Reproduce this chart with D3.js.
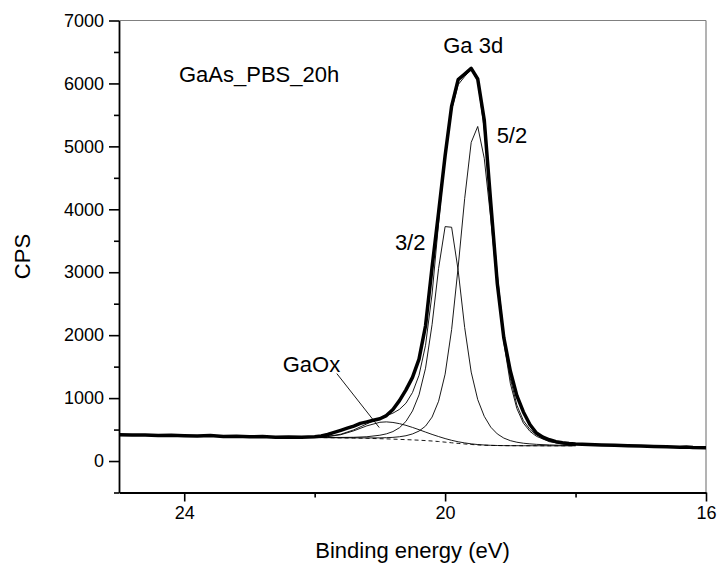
<!DOCTYPE html>
<html>
<head>
<meta charset="utf-8">
<script src="https://cdn.jsdelivr.net/npm/d3@7"></script>
<style>
  body { margin: 0; background: #fff; }
  svg text { font-family: "Liberation Sans", Arial, sans-serif; fill: #000; }
</style>
</head>
<body>
<svg id="chart" width="719" height="565"></svg>
<script>
// measured spectrum (binding energy eV, counts per second)
const rawData = [
  [25.0, 418], [24.8, 412], [24.6, 414], [24.4, 406], [24.2, 410], [24.0, 402],
  [23.8, 396], [23.6, 404], [23.4, 390], [23.2, 395], [23.0, 384], [22.8, 388],
  [22.6, 376], [22.4, 380], [22.2, 378], [22.0, 386], [21.9, 398], [21.8, 422],
  [21.7, 455], [21.6, 488], [21.5, 522], [21.4, 556], [21.3, 598], [21.2, 622],
  [21.1, 648], [21.0, 672], [20.9, 722], [20.8, 820], [20.7, 960], [20.6, 1130],
  [20.5, 1330], [20.4, 1620], [20.3, 2150], [20.2, 3080], [20.1, 3950], [20.0, 4850],
  [19.9, 5640], [19.8, 6060], [19.7, 6150], [19.6, 6240], [19.5, 6070], [19.4, 5420],
  [19.3, 4100], [19.2, 2820], [19.1, 1960], [19.0, 1430], [18.9, 1040], [18.8, 780],
  [18.7, 580], [18.6, 445], [18.5, 378], [18.4, 338], [18.3, 308], [18.2, 292],
  [18.1, 280], [18.0, 272], [17.8, 262], [17.6, 254], [17.4, 250], [17.2, 243],
  [17.0, 240], [16.8, 232], [16.6, 226], [16.4, 218], [16.3, 224], [16.2, 214],
  [16.0, 210]
];

// fit components, all on the same energy grid
const fitEnergy = [22.4, 22.2, 22.0, 21.8, 21.6, 21.4, 21.2, 21.0, 20.9, 20.8, 20.7, 20.6,
  20.5, 20.4, 20.3, 20.2, 20.1, 20.0, 19.9, 19.8, 19.7, 19.6, 19.5, 19.4, 19.3, 19.2,
  19.1, 19.0, 18.9, 18.8, 18.7, 18.6, 18.4, 18.2, 18.0];

const background = [376, 375, 373, 371, 368, 365, 361, 355, 352, 348, 344, 340,
  336, 331, 325, 318, 310, 300, 290, 280, 271, 263, 256, 251, 248, 246,
  245, 244, 244, 243, 243, 243, 242, 242, 242];

const gaOx = [376, 376, 377, 388, 418, 480, 559, 616, 622, 613, 594, 567,
  534, 498, 460, 423, 389, 357, 329, 306, 288, 273, 262, 255, 250, 247,
  245, 244, 244, 243, 243, 243, 242, 242, 242];

const ga3d32 = [376, 376, 375, 375, 375, 377, 386, 410, 432, 468, 529, 630,
  796, 1051, 1475, 2168, 3060, 3725, 3715, 3030, 2121, 1413, 976, 711, 538, 431,
  365, 324, 299, 283, 273, 265, 256, 250, 246];

const ga3d52 = [376, 375, 373, 371, 369, 368, 367, 368, 371, 376, 386, 402,
  431, 476, 555, 698, 950, 1380, 2090, 3080, 4171, 5063, 5316, 4811, 3848, 2786,
  1885, 1234, 834, 603, 473, 393, 307, 270, 254];

const fitSum = [376, 377, 379, 392, 426, 495, 590, 684, 721, 761, 821, 919,
  1089, 1363, 1840, 2653, 3779, 4862, 5580, 5980, 6110, 6223, 6042, 5275, 4140, 2972,
  2005, 1314, 889, 643, 503, 415, 321, 278, 258];

const xMajorTicks = [24, 20, 16];
const xMinorTicks = [22, 18];
const yMajorTicks = [0, 1000, 2000, 3000, 4000, 5000, 6000, 7000];
const yMinorTicks = [-500, 500, 1500, 2500, 3500, 4500, 5500, 6500];

const svg = d3.select("#chart"),
      margin = { top: 20.5, right: 13, bottom: 72.5, left: 119 },
      width  = 719 - margin.left - margin.right,
      height = 565 - margin.top - margin.bottom;

const x = d3.scaleLinear().domain([25, 16]).range([0, width]);
const y = d3.scaleLinear().domain([-500, 7000]).range([height, 0]);

const g = svg.append("g")
  .attr("transform", `translate(${margin.left},${margin.top})`);

// frame: top and right in grey
g.append("line").attr("x1", 0).attr("x2", width).attr("y1", 0).attr("y2", 0)
  .attr("stroke", "#808080").attr("stroke-width", 1.2);
g.append("line").attr("x1", width).attr("x2", width).attr("y1", 0).attr("y2", height)
  .attr("stroke", "#808080").attr("stroke-width", 1.2);

const line = d3.line().x(d => x(d[0])).y(d => y(d[1]));
const fitLine = vals => line(fitEnergy.map((e, i) => [e, vals[i]]));

// background (dashed)
g.append("path").attr("d", fitLine(background))
  .attr("fill", "none").attr("stroke", "#000").attr("stroke-width", 0.9)
  .attr("stroke-dasharray", "4,3");

// components
[gaOx, ga3d32, ga3d52, fitSum].forEach(vals => {
  g.append("path").attr("d", fitLine(vals))
    .attr("fill", "none").attr("stroke", "#000").attr("stroke-width", 0.9);
});

// measured data
g.append("path").attr("d", line(rawData))
  .attr("fill", "none").attr("stroke", "#000").attr("stroke-width", 3.5)
  .attr("stroke-linejoin", "round");

// axes
const axisStyle = sel => {
  sel.select(".domain").attr("stroke-width", 1.8);
  sel.selectAll(".tick line").attr("stroke-width", 1.6);
  sel.selectAll("text").style("font-size", "18px")
    .style("font-family", "'Liberation Sans', Arial, sans-serif");
};

g.append("g")
  .call(d3.axisLeft(y).tickValues(yMinorTicks).tickSize(5).tickFormat(""))
  .call(s => s.select(".domain").remove())
  .call(s => s.selectAll(".tick line").attr("stroke-width", 1.6));
g.append("g")
  .call(d3.axisLeft(y).tickValues(yMajorTicks).tickSize(10).tickSizeOuter(0)
    .tickPadding(5).tickFormat(d3.format("d")))
  .call(axisStyle);

g.append("g").attr("transform", `translate(0,${height})`)
  .call(d3.axisBottom(x).tickValues(xMinorTicks).tickSize(5).tickFormat(""))
  .call(s => s.select(".domain").remove())
  .call(s => s.selectAll(".tick line").attr("stroke-width", 1.6));
g.append("g").attr("transform", `translate(0,${height})`)
  .call(d3.axisBottom(x).tickValues(xMajorTicks).tickSize(9).tickSizeOuter(0)
    .tickPadding(5).tickFormat(d3.format("d")))
  .call(axisStyle);

// axis titles
svg.append("text")
  .attr("x", margin.left + width / 2).attr("y", 558)
  .attr("text-anchor", "middle").style("font-size", "22px")
  .text("Binding energy (eV)");
svg.append("text")
  .attr("transform", `translate(30,${margin.top + height / 2}) rotate(-90)`)
  .attr("text-anchor", "middle").style("font-size", "22px")
  .text("CPS");

// annotations
const note = (txt, e, c, anchor) => g.append("text")
  .attr("x", x(e)).attr("y", y(c))
  .attr("text-anchor", anchor || "start").style("font-size", "22px")
  .text(txt);

note("GaAs_PBS_20h", 24.08, 6020);
note("Ga 3d", 19.57, 6484, "middle");
note("5/2", 19.21, 5056);
note("3/2", 20.77, 3357);
note("GaOx", 22.49, 1421);

g.append("line")
  .attr("x1", x(21.66)).attr("y1", y(1389))
  .attr("x2", x(21.01)).attr("y2", y(532))
  .attr("stroke", "#000").attr("stroke-width", 0.9);
</script>
</body>
</html>
